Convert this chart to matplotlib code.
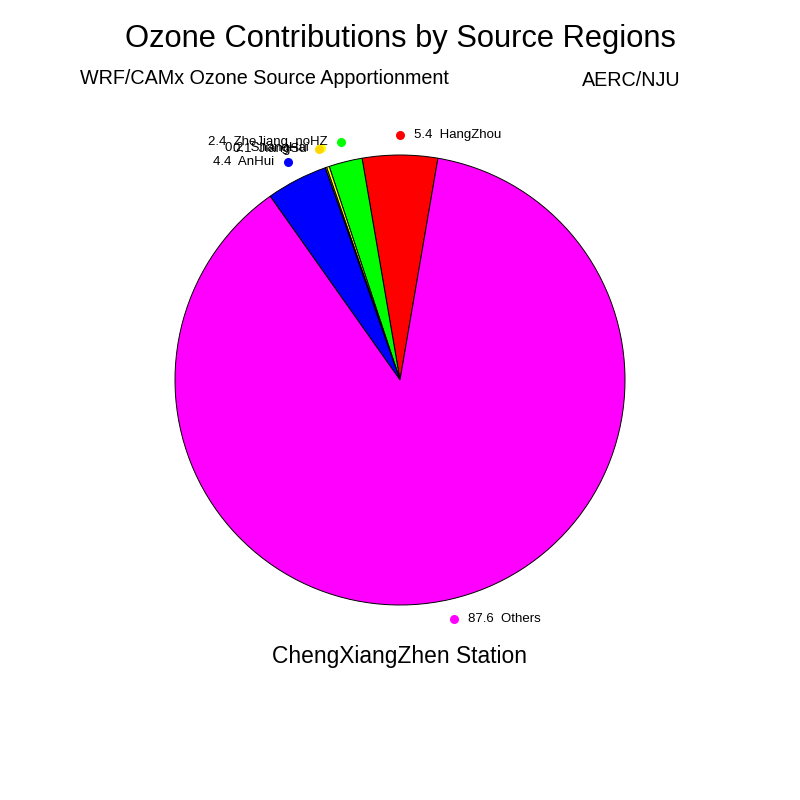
"""
Ozone source apportionment pie chart
"""

import numpy as np
import matplotlib
matplotlib.use('Agg')
import matplotlib.pyplot as plt

plt.rcParams['font.family'] = ['Liberation Sans', 'DejaVu Sans']

# Data
regions = ['HangZhou', 'ZheJiang_noHZ', 'ShangHai', 'JiangSu', 'AnHui', 'Others']
contrib = [5.4, 2.4, 0.2, 0.1, 4.4, 87.6]
colors = ['#FF0000', '#00FF00', '#FFFF00', '#FFD700', '#0000FF', '#FF00FF']

fig = plt.figure(figsize=(8, 8), dpi=100)
ax = fig.add_axes([0, 0, 1, 1])

cx, cy, r = 400, 420, 225
total = sum(contrib)
start = 90 - contrib[0] / total * 360 / 2

ax.pie(contrib, colors=colors, startangle=start, counterclock=True,
       center=(cx, cy), radius=r, frame=True,
       wedgeprops=dict(edgecolor='black', linewidth=0.7))
ax.set_xlim(0, 800)
ax.set_ylim(0, 800)
ax.set_aspect('equal')
ax.axis('off')

# Labels with dots outside the pie
cum = start
for name, val, col in zip(regions, contrib, colors):
    ang = cum + val / total * 360 / 2
    cum += val / total * 360
    th = np.deg2rad(ang)
    dx, dy = cx + 245 * np.cos(th), cy + 245 * np.sin(th)
    ax.plot(dx, dy, 'o', color=col, markersize=6.5, markeredgewidth=0)
    label = f'{val}  {name}'
    if np.cos(th) >= -0.01:
        ax.text(dx + 14, dy, label, ha='left', va='center', fontsize=9.5)
    else:
        ax.text(dx - 13, dy, label, ha='right', va='center', fontsize=9.5)

fig.text(0.5, 1 - 39 / 800, 'Ozone Contributions by Source Regions',
         ha='center', va='center', fontsize=22.2)
fig.text(80 / 800, 1 - 78 / 800, 'WRF/CAMx Ozone Source Apportionment',
         ha='left', va='center', fontsize=14.2)
fig.text(681 / 800, 1 - 80 / 800, 'AERC/NJU', ha='right', va='center', fontsize=14.2)
fig.text(0.5, 1 - 656 / 800, 'ChengXiangZhen Station',
         ha='center', va='center', fontsize=16.4)

plt.savefig('out.png', dpi=100)
plt.close()
